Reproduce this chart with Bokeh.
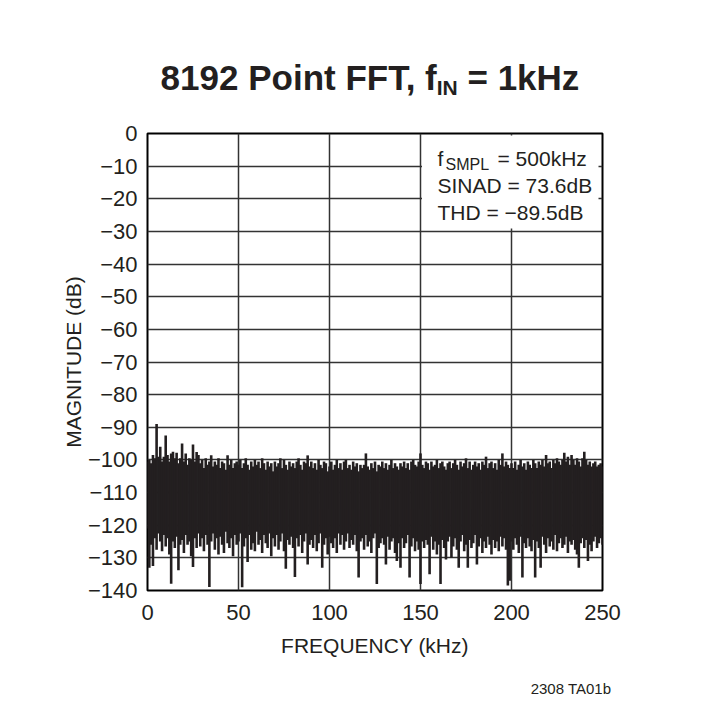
from bokeh.plotting import figure
from bokeh.layouts import column
from bokeh.models import FixedTicker, Range1d, ColumnDataSource, BoxAnnotation, Label, Div
from bokeh.embed import file_html
from bokeh.resources import INLINE

# ---------------- data ----------------
freq_khz = list(range(0, 251))

peak_db = [
    -100.5, -100.0, -101.0, -98.5, -99.5, -89.0, -99.0, -96.0, -100.5, -99.0,
    -92.5, -98.5, -100.5, -98.0, -97.5, -99.5, -97.8, -101.0, -99.5, -95.0,
    -100.5, -98.0, -101.5, -99.5, -100.0, -95.3, -100.5, -97.6, -98.5, -101.0,
    -100.0, -102.5, -99.5, -101.5, -100.5, -98.6, -102.0, -100.5, -101.5, -99.5,
    -102.5, -100.5, -101.0, -103.0, -98.6, -101.5, -100.0, -102.5, -101.0, -100.5,
    -101.5, -100.0, -102.5, -101.0, -99.5, -101.5, -103.0, -100.5, -102.0, -100.0,
    -101.5, -100.5, -102.5, -99.5, -101.0, -103.0, -100.5, -102.0, -101.0, -103.5,
    -100.5, -102.0, -101.0, -99.5, -102.5, -100.0, -101.5, -103.0, -100.5, -102.0,
    -101.0, -102.5, -100.5, -99.5, -101.5, -103.0, -100.5, -101.0, -98.6, -102.0,
    -100.5, -102.5, -101.0, -103.0, -100.0, -101.5, -102.5, -100.5, -101.0, -103.5,
    -102.0, -100.5, -103.0, -101.5, -100.0, -102.5, -101.0, -103.0, -100.5, -100.0,
    -102.5, -101.5, -103.0, -100.5, -102.0, -101.0, -103.5, -101.5, -102.5, -101.5,
    -98.0, -102.0, -103.0, -101.0, -102.5, -100.5, -103.5, -101.5, -102.0, -100.5,
    -102.5, -101.0, -103.0, -101.5, -100.0, -102.5, -101.0, -102.0, -103.0, -101.0,
    -102.0, -100.5, -102.5, -101.0, -103.0, -100.5, -100.0, -101.5, -102.0, -100.5,
    -98.0, -101.5, -102.5, -100.5, -101.0, -103.0, -100.5, -102.0, -101.5, -100.0,
    -102.5, -101.0, -100.5, -102.0, -103.0, -101.0, -100.5, -102.5, -101.0, -100.0,
    -101.5, -103.0, -100.5, -102.0, -101.0, -99.5, -102.5, -100.5, -103.0, -101.5,
    -100.5, -102.0, -101.0, -103.0, -100.5, -101.5, -99.0, -102.5, -101.0, -100.5,
    -102.5, -101.0, -103.0, -100.0, -101.5, -98.0, -102.0, -100.5, -101.5, -102.5,
    -101.0, -102.5, -100.5, -103.0, -101.5, -100.0, -102.0, -101.0, -103.0, -100.5,
    -101.5, -102.5, -100.0, -101.0, -102.5, -100.5, -101.5, -100.0, -102.0, -98.5,
    -101.0, -100.5, -102.5, -100.0, -101.0, -99.5, -100.5, -101.5, -100.0, -97.8,
    -100.5, -99.0, -101.5, -98.5, -100.0, -101.5, -99.5, -100.5, -102.0, -99.5,
    -97.5, -100.0, -101.5, -100.5, -102.0, -101.0, -100.5, -102.0, -101.5, -101.0,
    -102.0,
]

trough_db = [
    -121.0, -133.0, -126.0, -132.5, -124.0, -127.5, -122.5, -125.0, -128.0, -123.0,
    -126.5, -124.0, -129.0, -137.9, -125.0, -127.0, -123.5, -133.8, -126.0, -124.5,
    -128.5, -123.0, -126.0, -125.0, -129.5, -132.8, -124.0, -127.0, -122.5, -126.5,
    -124.0, -128.0, -123.0, -126.0, -138.9, -125.0, -122.5, -127.5, -124.0, -129.0,
    -123.5, -126.0, -128.5, -122.0, -125.5, -127.0, -124.0, -129.5, -123.0, -126.0,
    -125.0, -122.5, -139.0, -126.5, -124.0, -131.3, -123.0, -127.5, -125.5, -128.0,
    -122.0, -126.0, -124.5, -128.5, -123.0, -125.5, -127.0, -122.5, -129.5, -124.0,
    -126.5, -123.0, -127.5, -125.0, -122.5, -128.0, -133.3, -124.5, -126.0, -123.5,
    -127.0, -135.9, -124.0, -126.5, -123.0, -128.5, -125.0, -122.5, -132.0, -126.0,
    -124.5, -127.0, -123.0, -128.0, -125.5, -122.5, -133.0, -126.0, -124.0, -129.0,
    -123.5, -125.5, -127.0, -124.0, -128.5, -122.5, -126.0, -123.0, -127.5, -125.0,
    -122.5, -127.0, -124.5, -126.0, -123.0, -128.0, -136.0, -125.0, -124.0, -127.5,
    -123.0, -126.5, -125.0, -128.5, -124.0, -122.5, -138.0, -127.0, -125.5, -124.0,
    -126.0, -132.0, -123.5, -127.5, -125.0, -124.0, -128.5, -131.0, -125.5, -133.0,
    -124.0, -127.0, -125.5, -123.0, -136.0, -126.5, -124.0, -128.0, -125.0, -127.5,
    -138.0, -125.0, -127.0, -124.5, -126.0, -135.0, -123.5, -127.5, -125.0, -129.0,
    -126.0, -138.0, -124.5, -127.0, -130.5, -125.0, -123.5, -130.0, -126.5, -124.0,
    -127.5, -133.0, -125.0, -123.0, -128.0, -126.0, -133.0, -124.5, -127.0, -125.5,
    -123.0, -132.0, -126.5, -124.0, -128.5, -125.0, -127.0, -123.5, -126.0, -129.0,
    -124.5, -127.0, -125.0, -128.0, -123.5, -126.5, -124.0, -127.5, -138.5, -137.0,
    -125.0, -127.5, -124.0, -126.0, -128.5, -123.5, -136.0, -125.5, -127.0, -124.0,
    -126.5, -128.0, -124.5, -136.0, -125.0, -127.0, -133.0, -123.5, -126.0, -128.5,
    -124.0, -126.5, -125.0, -127.5, -123.0, -128.0, -125.5, -124.0, -127.0, -126.0,
    -123.5, -128.5, -125.0, -126.0, -124.5, -127.5, -129.0, -133.0, -125.5, -124.0,
    -127.0, -124.5, -131.0, -126.0, -128.0, -125.0, -123.5, -127.0, -125.5, -124.0,
    -126.0,
]

x_ticks = [0, 50, 100, 150, 200, 250]
x_tick_labels = ["0", "50", "100", "150", "200", "250"]
y_ticks = [0, -10, -20, -30, -40, -50, -60, -70, -80, -90, -100, -110, -120, -130, -140]
y_tick_labels = ["0", "\u221210", "\u221220", "\u221230", "\u221240", "\u221250", "\u221260",
                 "\u221270", "\u221280", "\u221290", "\u2212100", "\u2212110", "\u2212120",
                 "\u2212130", "\u2212140"]

title_main = "8192 Point FFT, f"
title_sub = "IN"
title_tail = " = 1kHz"
note_lines = ["SINAD = 73.6dB", "THD = \u221289.5dB"]
fs_main, fs_sub, fs_tail = "f", "SMPL", "= 500kHz"
footnote = "2308 TA01b"

FONT = "Liberation Sans"
INK = "#231f20"

# ---------------- page geometry (page pixels) ----------------
W, H = 702, 715
FL, FR, FT, FB = 147, 602, 133, 590       # plot frame edges
TITLE_H = 118                              # title strip height
FOOT_TOP = 672                             # footnote strip top

X_MIN, X_MAX = 0, 250
Y_MIN, Y_MAX = -140, 0


def fx(px):
    return X_MIN + (px - FL) / (FR - FL) * (X_MAX - X_MIN)


def fy(py):
    return Y_MIN + (FB - py) / (FB - FT) * (Y_MAX - Y_MIN)


# ---------------- title strip ----------------
title_html = (
    f'<div style="box-sizing:border-box; width:{W}px; padding-left:38px; padding-top:58px; '
    f'margin:0; text-align:center; white-space:nowrap; font-family:\'{FONT}\'; font-size:35px; '
    f'font-weight:bold; line-height:40px; color:{INK};">'
    f'{title_main}<span style="font-size:21px; position:relative; top:5px;">{title_sub}</span>'
    f'{title_tail}</div>'
)
title_div = Div(text=title_html, width=W, height=TITLE_H, margin=(0, 0, 0, 0))

# ---------------- main plot ----------------
p = figure(frame_width=FR - FL, frame_height=FB - FT,
           min_border_left=FL, min_border_right=W - FR,
           min_border_top=FT - TITLE_H, min_border_bottom=FOOT_TOP - FB,
           x_range=Range1d(X_MIN, X_MAX), y_range=Range1d(Y_MIN, Y_MAX),
           output_backend="svg", toolbar_location=None,
           background_fill_color="white", border_fill_color="white")

p.outline_line_color = "black"
p.outline_line_width = 2

for g, t in ((p.xgrid, x_ticks), (p.ygrid, y_ticks)):
    g.ticker = FixedTicker(ticks=t)
    g.grid_line_color = "#333333"
    g.grid_line_width = 1.5

for ax, t, labs in ((p.xaxis, x_ticks, x_tick_labels), (p.yaxis, y_ticks, y_tick_labels)):
    ax.ticker = FixedTicker(ticks=t)
    ax.major_label_overrides = {tk: lb for tk, lb in zip(t, labs)}
    ax.axis_line_color = None
    ax.major_tick_line_color = None
    ax.minor_tick_line_color = None
    ax.major_label_text_font = FONT
    ax.major_label_text_font_size = "22px"
    ax.major_label_text_color = INK
    ax.axis_label_text_font = FONT
    ax.axis_label_text_font_size = "21px"
    ax.axis_label_text_font_style = "normal"
    ax.axis_label_text_color = INK

p.xaxis.axis_label = "FREQUENCY (kHz)"
p.yaxis.axis_label = "MAGNITUDE (dB)"
p.xaxis.major_label_standoff = 8
p.yaxis.major_label_standoff = 4
p.xaxis.axis_label_standoff = 11
p.yaxis.axis_label_standoff = 0

src = ColumnDataSource(dict(f=freq_khz, lo=trough_db, hi=peak_db))
p.segment(x0="f", y0="lo", x1="f", y1="hi", source=src, line_color=INK, line_width=2.6)

# white panel behind the annotation text
p.add_layout(BoxAnnotation(left=fx(421.5), right=fx(598), top=fy(135), bottom=fy(228),
                           fill_color="white", fill_alpha=1.0, line_color=None))


def lab(text, px, py, size, align="left"):
    p.add_layout(Label(x=fx(px), y=fy(py), text=text, text_font=FONT,
                       text_font_size=size, text_align=align, text_baseline="alphabetic",
                       text_color=INK))


lab(fs_main, 437, 158, "21px")
lab(fs_sub, 445, 164, "16px")
lab(fs_tail, 497, 158, "21px")
lab(note_lines[0], 437, 185, "21px")
lab(note_lines[1], 437, 212, "21px")

# ---------------- footnote strip ----------------
foot_html = (
    f'<div style="box-sizing:border-box; width:611px; padding-top:8px; margin:0; '
    f'text-align:right; white-space:nowrap; font-family:\'{FONT}\'; font-size:15px; '
    f'line-height:17px; color:{INK};">{footnote}</div>'
)
foot_div = Div(text=foot_html, width=W, height=H - FOOT_TOP, margin=(0, 0, 0, 0))

layout = column(title_div, p, foot_div, spacing=0)
open("out.html", "w").write(file_html(layout, INLINE))
